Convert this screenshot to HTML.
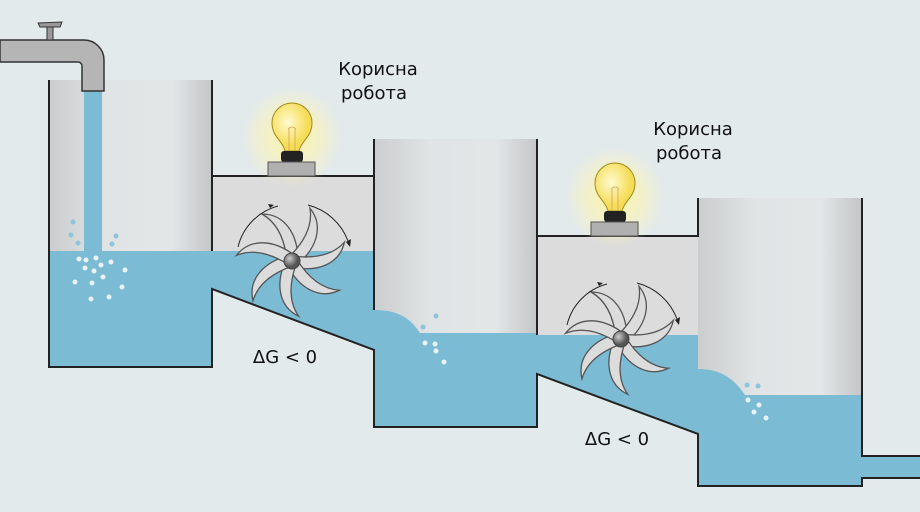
<!DOCTYPE html>
<html><head><meta charset="utf-8"><style>
html,body{margin:0;padding:0;background:#e3eaec;}
svg{display:block}
text{font-family:"DejaVu Sans","Liberation Sans",sans-serif;fill:#111;}
</style></head><body>
<svg width="920" height="512" viewBox="0 0 920 512" xmlns="http://www.w3.org/2000/svg">
<defs>
<linearGradient id="tg" x1="0" x2="1" y1="0" y2="0">
<stop offset="0" stop-color="#cbcdce"/><stop offset="0.35" stop-color="#e0e4e5"/><stop offset="0.75" stop-color="#e2e6e7"/><stop offset="1" stop-color="#c4c6c7"/>
</linearGradient>
<radialGradient id="glow"><stop offset="0" stop-color="#fff39a" stop-opacity="0.95"/><stop offset="0.6" stop-color="#fff6b0" stop-opacity="0.5"/><stop offset="1" stop-color="#fff6b0" stop-opacity="0"/></radialGradient>
<radialGradient id="hub" cx="0.35" cy="0.35"><stop offset="0" stop-color="#ccc"/><stop offset="1" stop-color="#555"/></radialGradient>
<radialGradient id="bulb" cx="0.4" cy="0.4"><stop offset="0" stop-color="#fffbd0"/><stop offset="1" stop-color="#f5dc55"/></radialGradient>
<g id="blade"><path d="M-5,0 C-7,-20 -14,-38 -30,-47 C-8,-47 6,-28 6,0 Z" fill="#dcdcdc" stroke="#555" stroke-width="1.3"/></g>
<g id="wheel">
<use href="#blade"/><use href="#blade" transform="rotate(51.4)"/><use href="#blade" transform="rotate(102.8)"/><use href="#blade" transform="rotate(154.2)"/><use href="#blade" transform="rotate(205.6)"/><use href="#blade" transform="rotate(257)"/><use href="#blade" transform="rotate(308.4)"/>
<circle r="8" fill="url(#hub)" stroke="#444" stroke-width="1"/>
<path d="M-54,-14 A56,56 0 0 1 -14,-55" fill="none" stroke="#222" stroke-width="1"/>
<path d="M-18,-56 l-6,-1 l2,4 z" fill="#222"/>
<path d="M16,-56 A58,58 0 0 1 56,-20" fill="none" stroke="#222" stroke-width="1"/>
<path d="M59,-22 l-1,8 l-4,-5 z" fill="#222"/>
</g>
<g id="lamp">
<circle r="50" fill="url(#glow)"/>
<path d="M-7,14 C-9,4 -20,0 -20,-14 A20,20 0 1 1 20,-14 C20,0 9,4 7,14 Z" fill="url(#bulb)" stroke="#a08a20" stroke-width="1"/>
<path d="M-3,14 L-3,-8 M3,14 L3,-8 M-4,-8 q4,-4 8,0" fill="none" stroke="#d4a060" stroke-width="0.8"/>
<rect x="-11" y="14" width="22" height="11" rx="3" fill="#222"/>
<rect x="-24" y="25" width="47" height="14" fill="#b0b0b0" stroke="#555"/>
</g>
</defs>

<rect x="49" y="80" width="163" height="287" fill="url(#tg)"/>
<rect x="49" y="251" width="163" height="116" fill="#7bbbd4"/>
<rect x="212" y="176" width="162" height="75" fill="#dcdcdc"/>
<path d="M212,251 H374 V350 L212,289 Z" fill="#7bbbd4"/>
<rect x="374" y="139" width="163" height="288" fill="url(#tg)"/>
<path d="M374,310 C398,310 410,318 420,333 H537 V427 H374 Z" fill="#7bbbd4"/>
<rect x="537" y="236" width="161" height="99" fill="#dcdcdc"/>
<path d="M537,335 H698 V434 L537,374 Z" fill="#7bbbd4"/>
<rect x="698" y="198" width="164" height="288" fill="url(#tg)"/>
<path d="M698,369 C722,369 735,380 745,395 H862 V486 H698 Z" fill="#7bbbd4"/>
<rect x="862" y="456" width="58" height="22" fill="#7bbbd4"/>

<g fill="none" stroke="#222" stroke-width="2">
<path d="M49,80 V367 H212 V289 L374,350 V427 H537 V374 L698,434 V486 H862 V478 H920"/>
<path d="M212,80 V251"/>
<path d="M212,176 H374 V139"/>
<path d="M374,176 V310"/>
<path d="M537,139 V236 H698 V198"/>
<path d="M537,236 V335"/>
<path d="M862,198 V456 H920"/>
</g>

<rect x="84" y="88" width="18" height="163" fill="#7bbbd4"/>
<path d="M0,40 H84 A20,20 0 0 1 104,60 V91 H82 V66 A4,4 0 0 0 78,62 H0 Z" fill="#b5b5b5" stroke="#333" stroke-width="1.5"/>
<rect x="47" y="27" width="6" height="13" fill="#999" stroke="#333"/>
<path d="M38,23 L62,22 L60,27 L40,27 Z" fill="#999" stroke="#333"/>

<g fill="#8cc5dc">
<circle cx="73" cy="222" r="2.5"/><circle cx="71" cy="235" r="2.5"/><circle cx="78" cy="243" r="2.5"/><circle cx="116" cy="236" r="2.5"/><circle cx="112" cy="244" r="2.5"/>
<circle cx="436" cy="316" r="2.5"/><circle cx="423" cy="327" r="2.5"/><circle cx="747" cy="385" r="2.5"/><circle cx="758" cy="386" r="2.5"/>
</g>
<g fill="#e8f4f8">
<circle cx="79" cy="259" r="2.5"/><circle cx="86" cy="260" r="2.5"/><circle cx="96" cy="258" r="2.5"/><circle cx="101" cy="265" r="2.5"/><circle cx="111" cy="262" r="2.5"/><circle cx="85" cy="268" r="2.5"/><circle cx="94" cy="271" r="2.5"/><circle cx="125" cy="270" r="2.5"/><circle cx="75" cy="282" r="2.5"/><circle cx="92" cy="283" r="2.5"/><circle cx="103" cy="277" r="2.5"/><circle cx="122" cy="287" r="2.5"/><circle cx="91" cy="299" r="2.5"/><circle cx="109" cy="297" r="2.5"/>
<circle cx="425" cy="343" r="2.5"/><circle cx="435" cy="344" r="2.5"/><circle cx="436" cy="351" r="2.5"/><circle cx="444" cy="362" r="2.5"/>
<circle cx="748" cy="400" r="2.5"/><circle cx="759" cy="405" r="2.5"/><circle cx="754" cy="412" r="2.5"/><circle cx="766" cy="418" r="2.5"/>
</g>

<use href="#wheel" x="292" y="261"/>
<use href="#wheel" x="621" y="339"/>
<use href="#lamp" x="292" y="137"/>
<use href="#lamp" x="615" y="197"/>

<g font-size="18" text-anchor="middle">
<text x="378" y="75">Корисна</text>
<text x="374" y="99">робота</text>
<text x="693" y="135">Корисна</text>
<text x="689" y="159">робота</text>
<text x="285" y="363">ΔG &lt; 0</text>
<text x="617" y="445">ΔG &lt; 0</text>
</g>
</svg>
</body></html>
